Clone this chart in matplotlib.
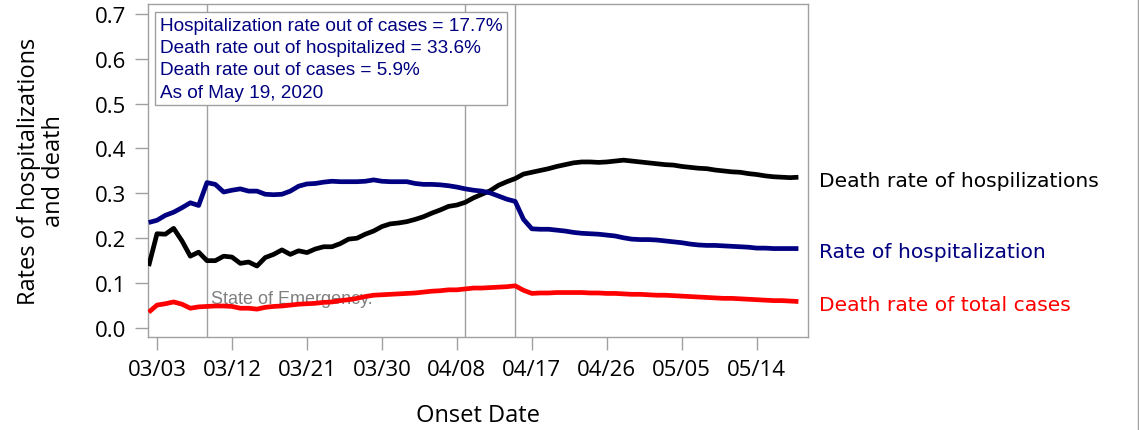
import matplotlib.pyplot as plt
import matplotlib.dates as mdates
import matplotlib.transforms as mtransforms
import pandas as pd
from matplotlib.lines import Line2D

# onset dates 03/02 .. 05/19
dates = pd.date_range('2020-03-02', '2020-05-19', freq='D')

death_of_hosp = [0.138, 0.210, 0.209, 0.222, 0.194, 0.160, 0.169, 0.150, 0.150, 0.160,
                 0.158, 0.144, 0.147, 0.138, 0.157, 0.164, 0.174, 0.164, 0.172, 0.168,
                 0.176, 0.181, 0.181, 0.188, 0.198, 0.200, 0.209, 0.216, 0.226, 0.232,
                 0.234, 0.237, 0.242, 0.248, 0.256, 0.263, 0.271, 0.274, 0.280, 0.290,
                 0.298, 0.306, 0.318, 0.326, 0.333, 0.343, 0.347, 0.351, 0.355, 0.360,
                 0.364, 0.368, 0.370, 0.370, 0.369, 0.370, 0.372, 0.374, 0.372, 0.370,
                 0.368, 0.366, 0.364, 0.363, 0.360, 0.358, 0.356, 0.355, 0.352, 0.350,
                 0.348, 0.347, 0.344, 0.342, 0.339, 0.337, 0.336, 0.335, 0.336]

hosp_rate = [0.235, 0.240, 0.251, 0.258, 0.268, 0.279, 0.273, 0.324, 0.320, 0.303,
             0.307, 0.310, 0.305, 0.305, 0.298, 0.297, 0.298, 0.305, 0.316, 0.321,
             0.322, 0.325, 0.327, 0.326, 0.326, 0.326, 0.327, 0.330, 0.327, 0.326,
             0.326, 0.326, 0.322, 0.320, 0.320, 0.319, 0.317, 0.314, 0.310, 0.307,
             0.305, 0.301, 0.294, 0.287, 0.282, 0.242, 0.221, 0.220, 0.220, 0.218,
             0.216, 0.213, 0.211, 0.210, 0.209, 0.207, 0.205, 0.201, 0.198, 0.197,
             0.197, 0.196, 0.194, 0.192, 0.190, 0.187, 0.185, 0.184, 0.184, 0.183,
             0.182, 0.181, 0.180, 0.178, 0.178, 0.177, 0.177, 0.177, 0.177]

death_of_cases = [0.035, 0.051, 0.054, 0.058, 0.053, 0.044, 0.047, 0.048, 0.049, 0.049,
                  0.048, 0.044, 0.044, 0.042, 0.046, 0.048, 0.049, 0.051, 0.053, 0.054,
                  0.055, 0.057, 0.058, 0.061, 0.063, 0.066, 0.070, 0.073, 0.074, 0.075,
                  0.076, 0.077, 0.078, 0.080, 0.082, 0.083, 0.085, 0.085, 0.087, 0.089,
                  0.089, 0.090, 0.091, 0.092, 0.094, 0.084, 0.077, 0.078, 0.078, 0.079,
                  0.079, 0.079, 0.079, 0.078, 0.078, 0.077, 0.077, 0.076, 0.075, 0.075,
                  0.074, 0.073, 0.073, 0.072, 0.071, 0.070, 0.069, 0.068, 0.067, 0.066,
                  0.066, 0.065, 0.064, 0.063, 0.062, 0.061, 0.061, 0.060, 0.059]

event_dates = ['2020-03-09', '2020-04-09', '2020-04-15']
tick_dates = pd.date_range('2020-03-03', periods=9, freq='9D')

box_lines = ['Hospitalization rate out of cases = 17.7%',
             'Death rate out of hospitalized = 33.6%',
             'Death rate out of cases = 5.9%',
             'As of May 19, 2020']

GRAY = '#a0a0a0'
NAVY = '#000080'

fig = plt.figure(figsize=(11.39, 4.31), dpi=100)
ax = fig.add_axes([148 / 1139, 1 - 337.5 / 431, 660 / 1139, 332.5 / 431])

for d in event_dates:
    ax.axvline(pd.Timestamp(d), color=GRAY, lw=1, zorder=1)

ax.plot(dates, death_of_hosp, color='black', lw=3.4, solid_capstyle='butt', zorder=3)
ax.plot(dates, hosp_rate, color=NAVY, lw=3.4, solid_capstyle='butt', zorder=3)
ax.plot(dates, death_of_cases, color='red', lw=3.4, solid_capstyle='butt', zorder=3)

x0 = pd.Timestamp('2020-03-03')
ax.set_xlim(x0 - pd.Timedelta(days=1.08), x0 + pd.Timedelta(days=78.15))
ax.set_ylim(-0.019, 0.722)

ax.set_xticks(tick_dates)
ax.xaxis.set_major_formatter(mdates.DateFormatter('%m/%d'))
ax.set_yticks([0.0, 0.1, 0.2, 0.3, 0.4, 0.5, 0.6, 0.7])
ax.set_yticklabels(['0.0', '0.1', '0.2', '0.3', '0.4', '0.5', '0.6', '0.7'])

for s in ax.spines.values():
    s.set_color(GRAY)
    s.set_linewidth(1)
ax.tick_params(axis='both', direction='out', length=9.5, width=1, color=GRAY,
               labelsize=16, labelcolor='black')
ax.tick_params(axis='x', pad=7)
ax.tick_params(axis='y', pad=6)
for lab in ax.get_xticklabels() + ax.get_yticklabels():
    lab.set_fontfamily('Open Sans')

ax.set_xlabel('Onset Date', fontsize=17, family='Open Sans', labelpad=16)
ax.set_ylabel('Rates of hospitalizations\nand death', fontsize=17, family='Open Sans',
              labelpad=21, linespacing=1.05)

# summary box
ax.text(0.018, 0.961, '\n'.join(box_lines), transform=ax.transAxes, ha='left', va='top',
        fontsize=13.7, family='Liberation Sans', color=NAVY, zorder=5, linespacing=1.4,
        bbox=dict(boxstyle='square,pad=0.25', fc='white', ec=GRAY, lw=1))

ax.annotate('State of Emergency.', xy=(pd.Timestamp('2020-03-09'), 0.065),
            xytext=(3, 0), textcoords='offset points', ha='left', va='center',
            fontsize=13, family='Liberation Sans', color='#808080', zorder=2)

# series labels on the right
trans = mtransforms.blended_transform_factory(ax.transAxes, ax.transData)
ax.text(1.0167, 0.328, 'Death rate of hospilizations', transform=trans, ha='left',
        va='center', fontsize=14.6, color='black', clip_on=False)
ax.text(1.0167, 0.170, 'Rate of hospitalization', transform=trans, ha='left',
        va='center', fontsize=14.6, color=NAVY, clip_on=False)
ax.text(1.0167, 0.0525, 'Death rate of total cases', transform=trans, ha='left',
        va='center', fontsize=14.6, color='red', clip_on=False)

fig.add_artist(Line2D([0.9992, 0.9992], [0, 1], transform=fig.transFigure,
                      color=GRAY, lw=1))

fig.savefig('out.png', dpi=100)
